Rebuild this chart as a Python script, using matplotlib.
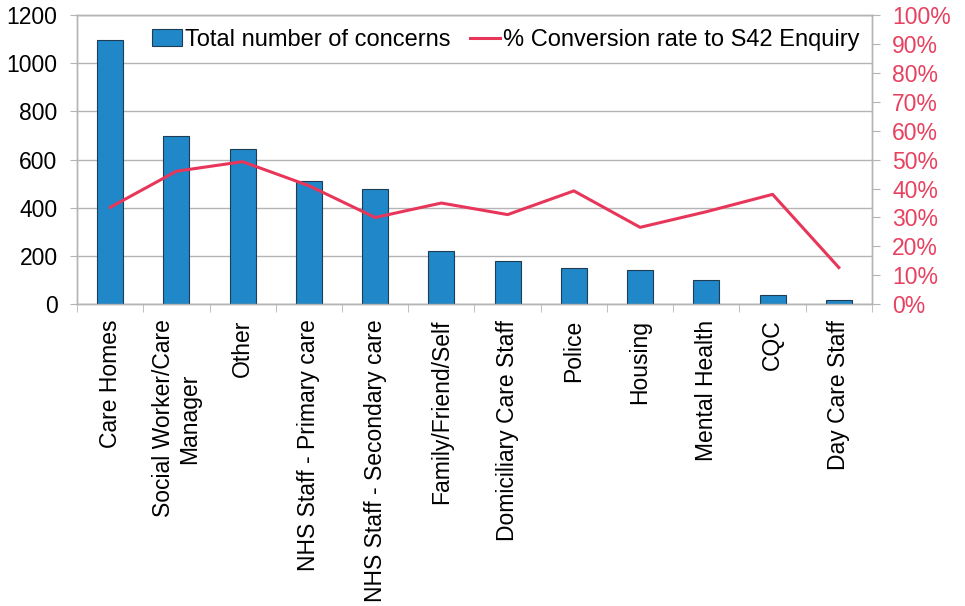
import numpy as np
import matplotlib
matplotlib.use('Agg')
import matplotlib.pyplot as plt
from matplotlib.ticker import FuncFormatter, FixedLocator

plt.rcParams['font.family'] = ['Liberation Sans', 'DejaVu Sans']

# Source of concern, volume and conversion to S42 enquiry
categories = ['Care Homes', 'Social Worker/Care\nManager', 'Other',
              'NHS Staff - Primary care', 'NHS Staff - Secondary care',
              'Family/Friend/Self', 'Domiciliary Care Staff', 'Police',
              'Housing', 'Mental Health', 'CQC', 'Day Care Staff']
concerns = [1095, 700, 645, 510, 477, 221, 180, 149, 143, 100, 37, 17]
conversion = [33.5, 46.0, 49.3, 41.0, 30.0, 35.0, 31.0, 39.2, 26.6, 32.0, 38.0, 12.7]

BAR_COLOR = '#2088c8'
LINE_COLOR = '#e8365a'
TICK_COLOR = '#e8405f'
GRID_COLOR = '#b4b4b4'
FS = 16.5

fig = plt.figure(figsize=(9.65, 6.06), dpi=100)
ax = fig.add_axes([0.0798, 0.4979, 0.8238, 0.4773])
ax2 = ax.twinx()

x = np.arange(len(categories))
ax.bar(x, concerns, width=0.39, color=BAR_COLOR, edgecolor='#1f3c55',
       linewidth=0.8, zorder=3, label='Total number of concerns')
ax2.plot(x, conversion, color=LINE_COLOR, linewidth=2.2, zorder=4,
         label='% Conversion rate to S42 Enquiry')

ax.set_xlim(-0.5, len(categories) - 0.5)
ax.set_ylim(0, 1200)
ax.set_yticks(np.arange(0, 1201, 200))
ax2.set_ylim(0, 100)
ax2.set_yticks(np.arange(0, 101, 10))
ax2.yaxis.set_major_formatter(FuncFormatter(lambda v, p: f'{v:.0f}%'))

ax.grid(axis='y', color=GRID_COLOR, linewidth=1.0, zorder=0)
ax.set_axisbelow(True)

for a in (ax, ax2):
    for s in a.spines.values():
        s.set_color(GRID_COLOR)
        s.set_linewidth(1.0)

ax.set_xticks(x)
ax.set_xticklabels(categories, rotation=90, fontsize=FS,
                   va='top', ha='center', multialignment='center')
ax.xaxis.set_minor_locator(FixedLocator(np.arange(-0.5, len(categories), 1.0)))
ax.tick_params(axis='x', which='major', length=0, pad=11)
ax.tick_params(axis='x', which='minor', length=6, color=GRID_COLOR)
ax.tick_params(axis='y', length=5, color=GRID_COLOR, labelsize=FS, pad=9)
ax2.tick_params(axis='y', length=5.5, color=GRID_COLOR, labelsize=FS,
                labelcolor=TICK_COLOR, pad=9)

h1, l1 = ax.get_legend_handles_labels()
h2, l2 = ax2.get_legend_handles_labels()
ax2.legend(h1 + h2, l1 + l2, loc='upper right', ncol=2, frameon=False,
           fontsize=17, bbox_to_anchor=(0.996, 0.985), handlelength=1.25,
           handletextpad=0.13, columnspacing=0.85, borderaxespad=0.2,
           borderpad=0.2)

fig.savefig('out.png', dpi=100, facecolor='white')
